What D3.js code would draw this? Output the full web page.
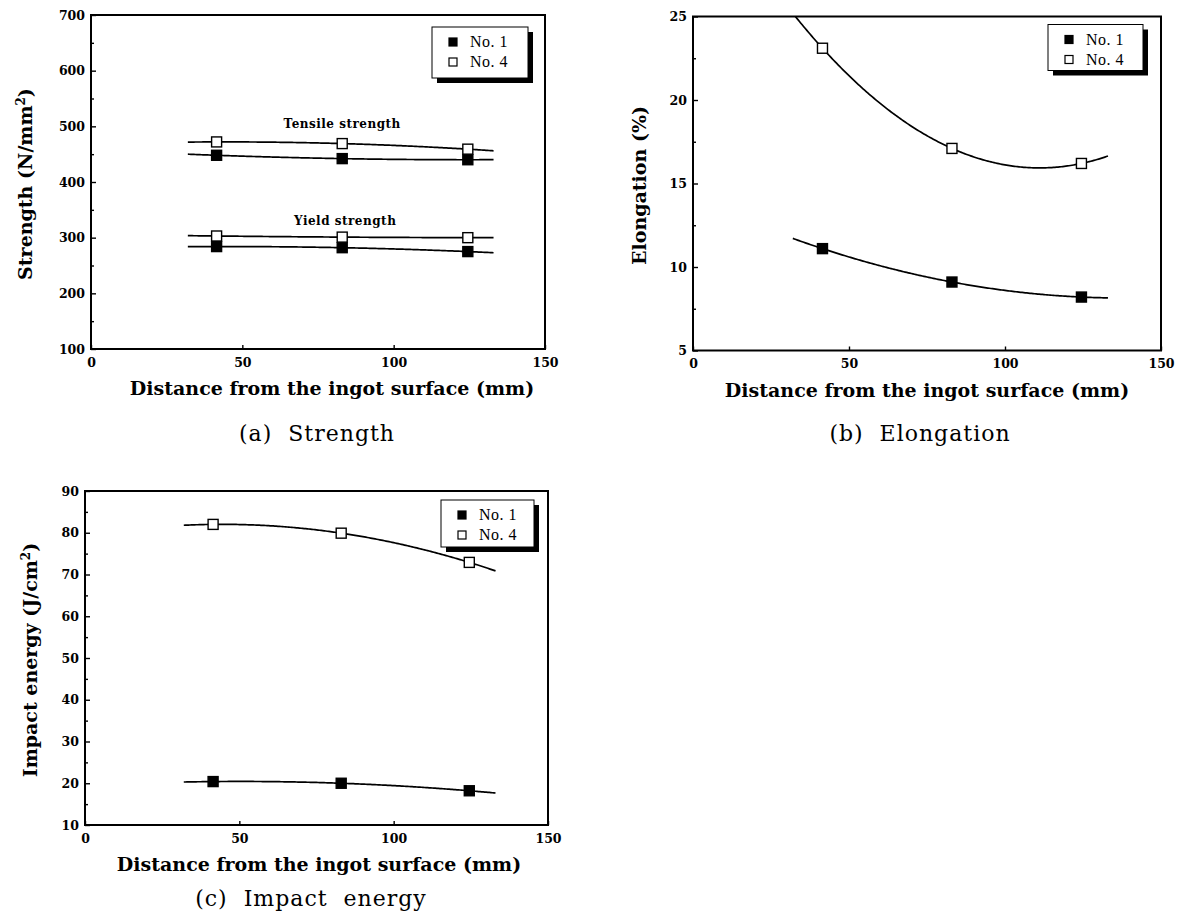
<!DOCTYPE html>
<html>
<head>
<meta charset="utf-8">
<script src="https://cdnjs.cloudflare.com/ajax/libs/d3/7.8.5/d3.min.js"></script>
<title>Strength, elongation and impact energy</title>
<style>
body { margin: 0; background: #fff; }
svg { display: block; }
.tick text { font-family: "DejaVu Serif", serif; font-weight: bold; font-size: 12.5px; fill: #000; }
.tick line { stroke: #000; stroke-width: 1.4px; }
.axis-title { font-family: "DejaVu Serif", serif; font-weight: bold; font-size: 19px; }
.note { font-family: "DejaVu Serif", serif; font-weight: bold; font-size: 12px; letter-spacing: 0.5px; }
.legend text { font-family: "Liberation Serif", serif; font-size: 16px; letter-spacing: 0.5px; }
.caption { font-family: "DejaVu Serif", serif; font-size: 22px; letter-spacing: 1px; white-space: pre; }
</style>
</head>
<body>
<script>

// distance of the specimens from the ingot surface (mm)
var distance = [41.5, 83, 124.5];
var xTicks = [0, 50, 100, 150];
// range the fitted curves are drawn over
var fitRange = [32, 133];

var seriesNames = ["No. 1", "No. 4"];

// (a) strength, N/mm2
var tensileNo1 = [448, 442, 440];
var tensileNo4 = [472, 469, 459];
var yieldNo1 = [284, 282, 275];
var yieldNo4 = [303, 301, 300];
var strengthTicks = [100, 200, 300, 400, 500, 600, 700];

// (b) elongation, %
var elongNo1 = [11.1, 9.1, 8.2];
var elongNo4 = [23.1, 17.1, 16.2];
var elongTicks = [5, 10, 15, 20, 25];

// (c) impact energy, J/cm2
var impactNo1 = [20.4, 20.0, 18.2];
var impactNo4 = [82.0, 79.9, 72.9];
var impactTicks = [10, 20, 30, 40, 50, 60, 70, 80, 90];

var svg = d3.select("body").append("svg")
  .attr("width", 1179)
  .attr("height", 923);

svg.append("rect").attr("width", 1179).attr("height", 923).attr("fill", "#fff");

// 2nd order least squares fit (the smooth curves of the figure)
function fitQuadratic(xs, ys) {
  var n = xs.length, sx = [0, 0, 0, 0, 0], sxy = [0, 0, 0];
  for (var i = 0; i < n; i++) {
    for (var k = 0; k < 5; k++) sx[k] += Math.pow(xs[i], k);
    for (var k = 0; k < 3; k++) sxy[k] += Math.pow(xs[i], k) * ys[i];
  }
  var m = [[sx[0], sx[1], sx[2], sxy[0]],
           [sx[1], sx[2], sx[3], sxy[1]],
           [sx[2], sx[3], sx[4], sxy[2]]];
  for (var c = 0; c < 3; c++) {
    for (var r = c + 1; r < 3; r++) {
      var f = m[r][c] / m[c][c];
      for (var j = c; j < 4; j++) m[r][j] -= f * m[c][j];
    }
  }
  var b = [0, 0, 0];
  for (var r = 2; r >= 0; r--) {
    var s = m[r][3];
    for (var j = r + 1; j < 3; j++) s -= m[r][j] * b[j];
    b[r] = s / m[r][r];
  }
  return function(x) { return b[0] + b[1] * x + b[2] * x * x; };
}

function midpoints(ticks) {
  return d3.pairs(ticks).map(function(p) { return (p[0] + p[1]) / 2; });
}

function drawPanel(cfg) {
  var x = d3.scaleLinear().domain([xTicks[0], xTicks[xTicks.length - 1]]).range([cfg.left, cfg.right]);
  var y = d3.scaleLinear().domain([cfg.yTicks[0], cfg.yTicks[cfg.yTicks.length - 1]]).range([cfg.bottom, cfg.top]);
  var g = svg.append("g");

  g.append("clipPath").attr("id", "clip-" + cfg.id)
    .append("rect")
    .attr("x", cfg.left).attr("y", cfg.top)
    .attr("width", cfg.right - cfg.left).attr("height", cfg.bottom - cfg.top);

  // minor y ticks
  g.append("g")
    .attr("transform", "translate(" + cfg.left + ",0)")
    .call(d3.axisLeft(y).tickValues(midpoints(cfg.yTicks)).tickSizeInner(-3).tickSizeOuter(0).tickFormat(""))
    .call(function(a) { a.select(".domain").remove(); });

  g.append("g")
    .attr("transform", "translate(" + cfg.left + ",0)")
    .call(d3.axisLeft(y).tickValues(cfg.yTicks).tickSizeInner(-5).tickSizeOuter(0).tickPadding(6))
    .call(function(a) { a.select(".domain").remove(); });

  g.append("g")
    .attr("transform", "translate(0," + cfg.bottom + ")")
    .call(d3.axisBottom(x).tickValues(xTicks).tickSizeInner(-4).tickSizeOuter(0).tickPadding(9))
    .call(function(a) { a.select(".domain").remove(); });

  g.append("rect")
    .attr("x", cfg.left).attr("y", cfg.top)
    .attr("width", cfg.right - cfg.left).attr("height", cfg.bottom - cfg.top)
    .attr("fill", "none").attr("stroke", "#000").attr("stroke-width", 2);

  var line = d3.line()
    .x(function(d) { return x(d[0]); })
    .y(function(d) { return y(d[1]); });

  cfg.series.forEach(function(s) {
    var fit = fitQuadratic(distance, s.values);
    var pts = d3.range(fitRange[0], fitRange[1] + 0.25, 0.5).map(function(d) { return [d, fit(d)]; });
    g.append("path")
      .datum(pts)
      .attr("d", line)
      .attr("clip-path", "url(#clip-" + cfg.id + ")")
      .attr("fill", "none")
      .attr("stroke", "#000")
      .attr("stroke-width", 1.7);
  });

  cfg.series.forEach(function(s) {
    g.selectAll(null)
      .data(distance.map(function(d, i) { return [d, s.values[i]]; }))
      .join("rect")
      .attr("x", function(d) { return x(d[0]) - 5; })
      .attr("y", function(d) { return y(d[1]) - 5; })
      .attr("width", 10).attr("height", 10)
      .attr("fill", s.open ? "#fff" : "#000")
      .attr("stroke", "#000")
      .attr("stroke-width", 1.4);
  });

  (cfg.notes || []).forEach(function(n) {
    g.append("text").attr("class", "note")
      .attr("x", x(n.x)).attr("y", y(n.y))
      .attr("text-anchor", "middle")
      .text(n.text);
  });

  // legend with drop shadow
  var lg = g.append("g").attr("class", "legend")
    .attr("transform", "translate(" + (cfg.right - cfg.legend.dx - cfg.legend.w) + "," + (cfg.top + cfg.legend.dy) + ")");
  lg.append("rect").attr("x", 5).attr("y", 5)
    .attr("width", cfg.legend.w).attr("height", cfg.legend.h).attr("fill", "#000");
  lg.append("rect")
    .attr("width", cfg.legend.w).attr("height", cfg.legend.h)
    .attr("fill", "#fff").attr("stroke", "#000").attr("stroke-width", 1);
  seriesNames.forEach(function(name, i) {
    var ry = 15 + i * 20;
    lg.append("rect")
      .attr("x", 17).attr("y", ry - 4)
      .attr("width", 8).attr("height", 8)
      .attr("fill", i ? "#fff" : "#000")
      .attr("stroke", "#000").attr("stroke-width", 1.2);
    lg.append("text")
      .attr("x", 38).attr("y", ry + 5)
      .text(name);
  });

  // axis titles
  g.append("text").attr("class", "axis-title")
    .attr("x", cfg.xTitleX).attr("y", cfg.bottom + 46)
    .attr("text-anchor", "middle")
    .text("Distance from the ingot surface (mm)");

  var yt = g.append("text").attr("class", "axis-title")
    .attr("transform", "translate(" + cfg.yTitleX + "," + ((cfg.top + cfg.bottom) / 2 + 2) + ") rotate(-90)")
    .attr("text-anchor", "middle")
    .attr("dy", "0.35em");
  yt.append("tspan").text(cfg.yTitle[0]);
  if (cfg.yTitle.length > 1) {
    yt.append("tspan").attr("font-size", "12px").attr("baseline-shift", "super").text(cfg.yTitle[1]);
    yt.append("tspan").text(cfg.yTitle[2]);
  }

  svg.append("text").attr("class", "caption")
    .attr("x", cfg.captionX).attr("y", cfg.captionY)
    .attr("text-anchor", "middle")
    .text(cfg.caption);
}

drawPanel({
  id: "a", left: 91, right: 545, top: 15, bottom: 349,
  yTicks: strengthTicks,
  series: [
    { values: tensileNo1, open: false },
    { values: tensileNo4, open: true },
    { values: yieldNo1, open: false },
    { values: yieldNo4, open: true }
  ],
  notes: [
    { text: "Tensile strength", x: 83, y: 497 },
    { text: "Yield strength", x: 84, y: 323 }
  ],
  legend: { w: 96, h: 51, dx: 17, dy: 12 },
  xTitleX: 332, yTitleX: 25,
  yTitle: ["Strength (N/mm", "2", ")"],
  caption: "(a)  Strength", captionX: 317, captionY: 441
});

drawPanel({
  id: "b", left: 693, right: 1161, top: 16.5, bottom: 350.5,
  yTicks: elongTicks,
  series: [
    { values: elongNo1, open: false },
    { values: elongNo4, open: true }
  ],
  legend: { w: 95, h: 46, dx: 18, dy: 8 },
  xTitleX: 927, yTitleX: 639,
  yTitle: ["Elongation (%)"],
  caption: "(b)  Elongation", captionX: 920, captionY: 441
});

drawPanel({
  id: "c", left: 85, right: 548, top: 491, bottom: 825,
  yTicks: impactTicks,
  series: [
    { values: impactNo1, open: false },
    { values: impactNo4, open: true }
  ],
  legend: { w: 93, h: 47, dx: 14, dy: 9 },
  xTitleX: 319, yTitleX: 30,
  yTitle: ["Impact energy (J/cm", "2", ")"],
  caption: "(c)  Impact  energy", captionX: 311, captionY: 906
});

</script>
</body>
</html>
